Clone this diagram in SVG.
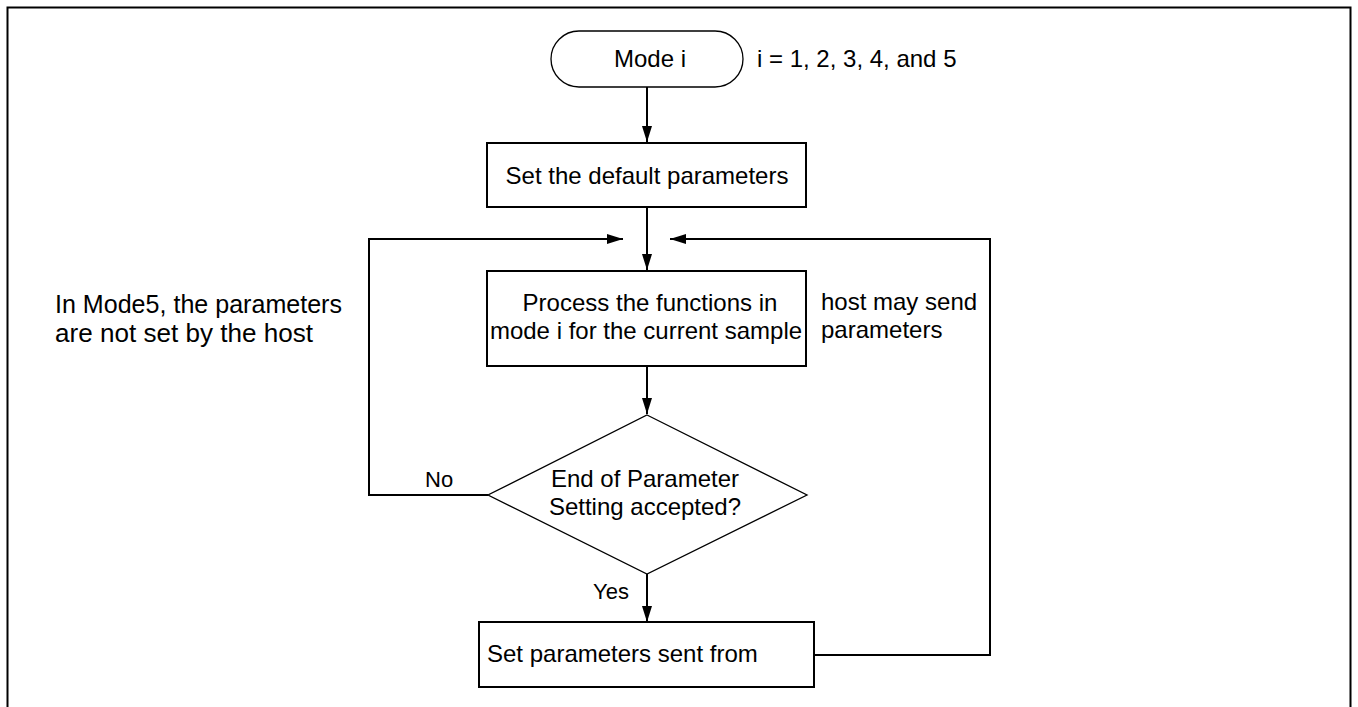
<svg xmlns="http://www.w3.org/2000/svg" width="1358" height="707" viewBox="0 0 1358 707">
<style>
text{font-family:"Liberation Sans",Arial,sans-serif;fill:#000;font-size:24px}
.box{fill:#fff;stroke:#000;stroke-width:2}
.thin{fill:#fff;stroke:#000;stroke-width:1.3}
.con{fill:none;stroke:#000;stroke-width:2}
.lbl{font-size:22px}
.note{font-size:25.5px}
.mid{text-anchor:middle}
</style>
<defs>
<marker id="arr" markerUnits="userSpaceOnUse" markerWidth="16" markerHeight="10" refX="16" refY="5" orient="auto">
<path d="M0,0 L16,5 L0,10 z" fill="#000"/>
</marker>
</defs>
<rect width="1358" height="707" fill="#fff"/>
<path d="M7.5,712 V7.5 H1350.5 V712" fill="none" stroke="#000" stroke-width="2"/>
<g id="connectors">
<path class="con" d="M647,87 V142" marker-end="url(#arr)"/>
<path class="con" d="M647,207 V270" marker-end="url(#arr)"/>
<path class="con" d="M647,366 V414" marker-end="url(#arr)"/>
<path class="con" d="M488,495 H369 V239 H623" marker-end="url(#arr)"/>
<path class="con" d="M647,574 V622" marker-end="url(#arr)"/>
<path class="con" d="M814,655 H990 V239 H670" marker-end="url(#arr)"/>
</g>
<g id="start">
<rect class="thin" x="551" y="31" width="192" height="56" rx="28" ry="28"/>
<text x="614" y="67">Mode i</text>
</g>
<text id="i-note" x="757" y="67">i = 1, 2, 3, 4, and 5</text>
<g id="defaults">
<rect class="box" x="487" y="143" width="319" height="64"/>
<text class="mid" x="647" y="184">Set the default parameters</text>
</g>
<g id="process">
<rect class="box" x="487" y="271" width="319" height="95"/>
<text class="mid" x="650" y="311">Process the functions in</text>
<text class="mid" x="646" y="339">mode i for the current sample</text>
</g>
<g id="host-note">
<text x="821" y="310">host may send</text>
<text x="821" y="338">parameters</text>
</g>
<g id="mode5-note">
<text class="note" x="55" y="313" textLength="287" lengthAdjust="spacingAndGlyphs">In Mode5, the parameters</text>
<text class="note" x="55" y="342" textLength="258" lengthAdjust="spacingAndGlyphs">are not set by the host</text>
</g>
<g id="decision">
<polygon class="thin" points="647,415 807,495 647,574 488,495"/>
<text class="mid" x="645" y="487">End of Parameter</text>
<text class="mid" x="645" y="515">Setting accepted?</text>
</g>
<text id="no" class="lbl" x="425" y="487">No</text>
<text id="yes" class="lbl" x="593" y="599">Yes</text>
<g id="set-sent">
<rect class="box" x="479" y="622" width="335" height="65"/>
<text x="487" y="662">Set parameters sent from</text>
</g>
</svg>
